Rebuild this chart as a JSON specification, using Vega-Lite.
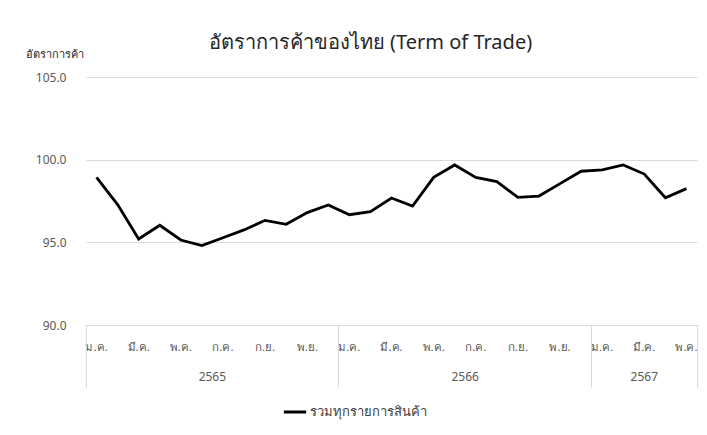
{
  "$schema": "https://vega.github.io/schema/vega-lite/v6.json",
  "width": 611,
  "height": 248,
  "autosize": {"type": "none"},
  "padding": {"left": 86, "top": 77, "right": 10, "bottom": 110},
  "background": "white",
  "config": {
    "view": {"stroke": null},
    "font": "Noto Sans, DejaVu Sans, sans-serif"
  },
  "title": {
    "text": "อัตราการค้าของไทย (Term of Trade)",
    "fontSize": 20,
    "fontWeight": "normal",
    "color": "#262626",
    "anchor": "middle",
    "frame": "group",
    "dx": -21,
    "offset": -5
  },
  "data": {
    "values": [
      {"ym": "2565-01", "series": "รวมทุกรายการสินค้า", "value": 98.93},
      {"ym": "2565-02", "series": "รวมทุกรายการสินค้า", "value": 97.28},
      {"ym": "2565-03", "series": "รวมทุกรายการสินค้า", "value": 95.2},
      {"ym": "2565-04", "series": "รวมทุกรายการสินค้า", "value": 96.03},
      {"ym": "2565-05", "series": "รวมทุกรายการสินค้า", "value": 95.14},
      {"ym": "2565-06", "series": "รวมทุกรายการสินค้า", "value": 94.8},
      {"ym": "2565-07", "series": "รวมทุกรายการสินค้า", "value": 95.28},
      {"ym": "2565-08", "series": "รวมทุกรายการสินค้า", "value": 95.75},
      {"ym": "2565-09", "series": "รวมทุกรายการสินค้า", "value": 96.33},
      {"ym": "2565-10", "series": "รวมทุกรายการสินค้า", "value": 96.09},
      {"ym": "2565-11", "series": "รวมทุกรายการสินค้า", "value": 96.8},
      {"ym": "2565-12", "series": "รวมทุกรายการสินค้า", "value": 97.26},
      {"ym": "2566-01", "series": "รวมทุกรายการสินค้า", "value": 96.67},
      {"ym": "2566-02", "series": "รวมทุกรายการสินค้า", "value": 96.85},
      {"ym": "2566-03", "series": "รวมทุกรายการสินค้า", "value": 97.68},
      {"ym": "2566-04", "series": "รวมทุกรายการสินค้า", "value": 97.2},
      {"ym": "2566-05", "series": "รวมทุกรายการสินค้า", "value": 98.93},
      {"ym": "2566-06", "series": "รวมทุกรายการสินค้า", "value": 99.68},
      {"ym": "2566-07", "series": "รวมทุกรายการสินค้า", "value": 98.93},
      {"ym": "2566-08", "series": "รวมทุกรายการสินค้า", "value": 98.67},
      {"ym": "2566-09", "series": "รวมทุกรายการสินค้า", "value": 97.72},
      {"ym": "2566-10", "series": "รวมทุกรายการสินค้า", "value": 97.8},
      {"ym": "2566-11", "series": "รวมทุกรายการสินค้า", "value": 98.55},
      {"ym": "2566-12", "series": "รวมทุกรายการสินค้า", "value": 99.3},
      {"ym": "2567-01", "series": "รวมทุกรายการสินค้า", "value": 99.38},
      {"ym": "2567-02", "series": "รวมทุกรายการสินค้า", "value": 99.68},
      {"ym": "2567-03", "series": "รวมทุกรายการสินค้า", "value": 99.13},
      {"ym": "2567-04", "series": "รวมทุกรายการสินค้า", "value": 97.7},
      {"ym": "2567-05", "series": "รวมทุกรายการสินค้า", "value": 98.25}
    ]
  },
  "resolve": {"axis": {"x": "independent"}},
  "layer": [
    {
      "mark": {"type": "line", "strokeWidth": 2.8},
      "encoding": {
        "x": {
          "field": "ym",
          "type": "ordinal",
          "sort": null,
          "bandPosition": 0.5,
          "scale": {"type": "band", "paddingInner": 0, "paddingOuter": 0},
          "axis": {
            "orient": "bottom",
            "title": null,
            "values": ["2565-01","2565-03","2565-05","2565-07","2565-09","2565-11","2566-01","2566-03","2566-05","2566-07","2566-09","2566-11","2567-01","2567-03","2567-05"],
            "labelExpr": "['ม.ค.','ก.พ.','มี.ค.','เม.ย.','พ.ค.','มิ.ย.','ก.ค.','ส.ค.','ก.ย.','ต.ค.','พ.ย.','ธ.ค.'][toNumber(slice(datum.value,5))-1]",
            "labelAngle": 0,
            "labelFontSize": 11.5,
            "labelColor": "#595959",
            "labelBaseline": "middle",
            "labelPadding": 22,
            "ticks": false,
            "grid": false,
            "domain": true,
            "domainColor": "#d9d9d9",
            "domainWidth": 1,
            "labelOverlap": false
          }
        },
        "y": {
          "field": "value",
          "type": "quantitative",
          "scale": {"domain": [90, 105], "nice": false, "zero": false},
          "axis": {
            "title": "อัตราการค้า",
            "titleAngle": 0,
            "titleX": -61,
            "titleY": -23,
            "titleAlign": "left",
            "titleBaseline": "middle",
            "titleFontSize": 11,
            "titleFontWeight": "normal",
            "titleColor": "#262626",
            "values": [90, 95, 100, 105],
            "format": ".1f",
            "labelFontSize": 12,
            "labelColor": "#595959",
            "labelPadding": 20,
            "ticks": false,
            "domain": false,
            "grid": true,
            "gridColor": "#d9d9d9",
            "gridWidth": 1
          }
        },
        "color": {
          "field": "series",
          "type": "nominal",
          "scale": {"range": ["black"]},
          "legend": {
            "title": null,
            "orient": "none",
            "legendX": 196,
            "legendY": 322,
            "symbolType": "stroke",
            "symbolStrokeWidth": 3,
            "symbolSize": 500,
            "labelFontSize": 13,
            "labelColor": "#404040",
            "labelOffset": 2
          }
        }
      }
    },
    {
      "mark": {"type": "point", "opacity": 0},
      "encoding": {
        "x": {
          "field": "ym",
          "type": "ordinal",
          "sort": null,
          "axis": {
            "orient": "bottom",
            "title": null,
            "values": ["2565-06", "2566-06", "2567-03"],
            "labelExpr": "slice(datum.value,0,4)",
            "labelOffset": {"condition": {"test": "datum.value == '2567-03'", "value": 0}, "value": 10.5},
            "labelAngle": 0,
            "labelFontSize": 12,
            "labelColor": "#595959",
            "labelBaseline": "middle",
            "labelPadding": 51,
            "ticks": false,
            "grid": false,
            "domain": false
          }
        }
      }
    },
    {
      "mark": {"type": "point", "opacity": 0},
      "encoding": {
        "x": {
          "field": "ym",
          "type": "ordinal",
          "sort": null,
          "axis": {
            "orient": "bottom",
            "title": null,
            "values": ["2565-01", "2566-01", "2567-01"],
            "bandPosition": 0,
            "labels": false,
            "ticks": true,
            "tickSize": 62,
            "tickColor": "#d9d9d9",
            "tickWidth": 1,
            "grid": false,
            "domain": false
          }
        }
      }
    },
    {
      "mark": {"type": "point", "opacity": 0},
      "encoding": {
        "x": {
          "field": "ym",
          "type": "ordinal",
          "sort": null,
          "axis": {
            "orient": "bottom",
            "title": null,
            "values": ["2567-05"],
            "bandPosition": 1,
            "labels": false,
            "ticks": true,
            "tickSize": 62,
            "tickColor": "#d9d9d9",
            "tickWidth": 1,
            "grid": false,
            "domain": false
          }
        }
      }
    }
  ]
}
